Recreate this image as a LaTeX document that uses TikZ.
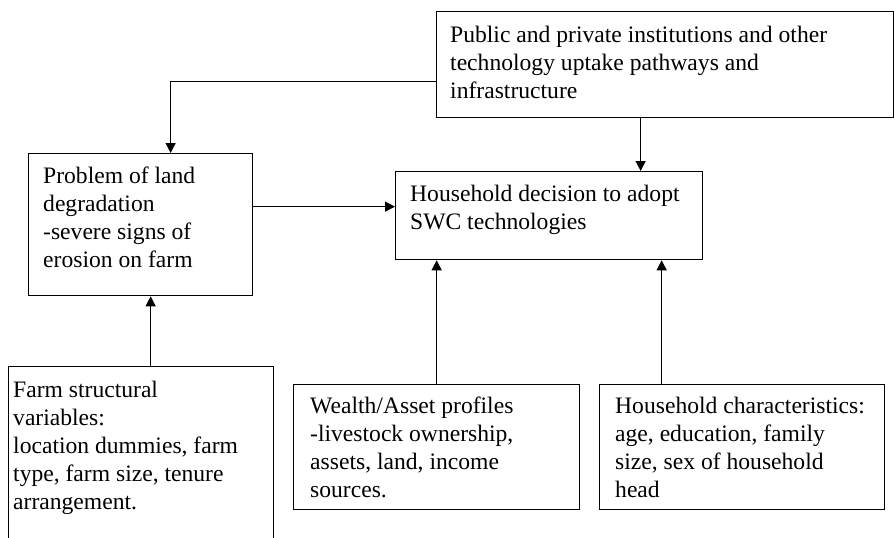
\documentclass[tikz,border=0pt]{standalone}
\usepackage{fontspec}
\setmainfont{Liberation Serif}
\usetikzlibrary{arrows.meta,calc}
\begin{document}
\begin{tikzpicture}[x=1pt,y=-1pt,
  box/.style={draw=black,line width=1.3pt,rectangle,inner sep=0pt,anchor=north west},
  txt/.style={anchor=base west,inner sep=0pt,font=\fontsize{23.6}{28}\selectfont},
  arr/.style={draw=black,line width=1.3pt,-{Triangle[length=10pt,width=10pt]}}]
\clip (0,0) rectangle (894,538);
\fill[white] (0,0) rectangle (894,538);
% boxes
\node[box,minimum width=457pt,minimum height=106pt] (inst) at (436,11) {};
\node[box,minimum width=224pt,minimum height=142pt] (land) at (28,153) {};
\node[box,minimum width=307pt,minimum height=88pt] (hh) at (395,171) {};
\node[box,minimum width=265pt,minimum height=190pt] (farm) at (8,366) {};
\node[box,minimum width=286pt,minimum height=125pt] (wealth) at (293,384) {};
\node[box,minimum width=285pt,minimum height=125pt] (hhc) at (599,384) {};
% texts
\node[txt] (instt) at (450,42) {\parbox[t]{440pt}{Public and private institutions and other\\technology uptake pathways and\\infrastructure}};
\node[txt] (landt) at (43,183) {\parbox[t]{220pt}{Problem of land\\degradation\\-severe signs of\\erosion on farm}};
\node[txt] (hht) at (410,201) {\parbox[t]{300pt}{Household decision to adopt\\SWC technologies}};
\node[txt] (farmt) at (13,397) {\parbox[t]{260pt}{Farm structural\\variables:\\location dummies, farm\\type, farm size, tenure\\arrangement.}};
\node[txt] (wealtht) at (310,413) {\parbox[t]{270pt}{Wealth/Asset profiles\\-livestock ownership,\\assets, land, income\\sources.}};
\node[txt] (hhct) at (615,413) {\parbox[t]{270pt}{Household characteristics:\\age, education, family\\size, sex of household\\head}};
% connectors
\coordinate (landin) at ([xshift=30pt]land.north);
\draw[arr] ([yshift=-17pt]inst.west) -| (landin);
\coordinate (hhin) at ([yshift=18pt]land.east -| hh.west);
\draw[arr] ([yshift=18pt]land.east) -- (hhin);
\coordinate (hhtop) at ([xshift=91.5pt]hh.north);
\draw[arr] (inst.south -| hhtop) -- (hhtop);
\coordinate (landbot) at ([xshift=10pt]land.south);
\draw[arr] (farm.north -| landbot) -- (landbot);
\draw[arr] (wealth.north) -- (hh.south -| wealth.north);
\coordinate (hhbot) at ([xshift=112.5pt]hh.south);
\draw[arr] (hhc.north -| hhbot) -- (hhbot);
\end{tikzpicture}
\end{document}
